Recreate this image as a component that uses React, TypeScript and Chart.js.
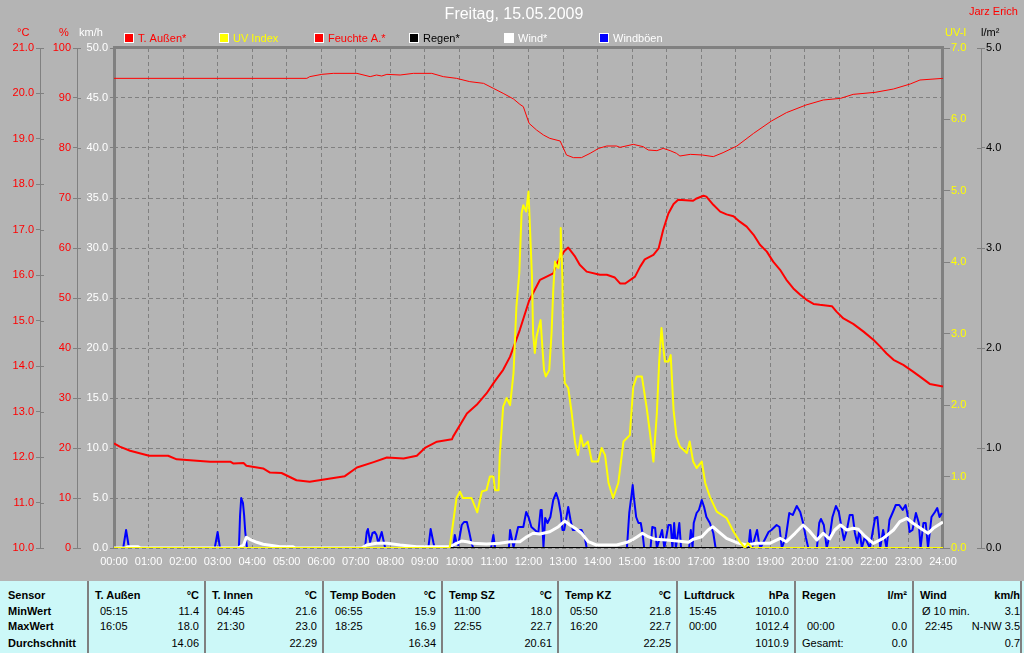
import React, { useEffect, useRef } from 'react';
import { Chart, registerables } from 'chart.js';

Chart.register(...registerables);

// ---------------- data ----------------
const TITLE = 'Freitag, 15.05.2009';
const AUTHOR = 'Jarz Erich';

// time in minutes since 00:00
const tempTimes = [0, 10, 28, 61, 94, 109, 167, 202, 207, 225, 230, 259, 271, 291, 317, 340, 362, 387, 401, 422, 451, 474, 503, 526, 541, 561, 587, 589, 613, 630, 647, 661, 676, 688, 705, 721, 740, 763, 769, 782, 789, 801, 809, 821, 844, 856, 870, 879, 888, 905, 914, 922, 937, 946, 954, 963, 972, 980, 1006, 1012, 1024, 1029, 1041, 1053, 1064, 1076, 1087, 1099, 1111, 1122, 1134, 1145, 1157, 1168, 1180, 1192, 1203, 1215, 1226, 1247, 1255, 1267, 1284, 1302, 1319, 1331, 1342, 1354, 1371, 1388, 1400, 1417, 1440];
const tempValues = [12.30, 12.23, 12.14, 12.03, 12.03, 11.95, 11.90, 11.90, 11.86, 11.87, 11.81, 11.75, 11.66, 11.65, 11.49, 11.46, 11.50, 11.55, 11.58, 11.77, 11.89, 11.99, 11.97, 12.03, 12.21, 12.34, 12.39, 12.45, 12.96, 13.15, 13.40, 13.66, 13.92, 14.21, 14.80, 15.44, 15.90, 16.04, 16.26, 16.53, 16.61, 16.41, 16.23, 16.08, 16.01, 16.01, 15.95, 15.82, 15.82, 15.97, 16.19, 16.35, 16.45, 16.59, 17.00, 17.36, 17.57, 17.66, 17.64, 17.69, 17.75, 17.73, 17.55, 17.40, 17.34, 17.30, 17.18, 17.07, 16.89, 16.67, 16.52, 16.30, 16.12, 15.90, 15.71, 15.57, 15.46, 15.37, 15.35, 15.32, 15.20, 15.05, 14.93, 14.76, 14.58, 14.43, 14.28, 14.14, 14.03, 13.88, 13.77, 13.61, 13.55];

const humTimes = [0, 335, 340, 361, 381, 422, 445, 456, 465, 474, 497, 520, 552, 572, 595, 618, 642, 659, 676, 694, 705, 711, 721, 734, 746, 757, 775, 786, 798, 812, 827, 842, 856, 873, 879, 902, 919, 928, 943, 954, 966, 977, 983, 1001, 1022, 1041, 1058, 1082, 1111, 1142, 1168, 1202, 1232, 1262, 1284, 1322, 1354, 1383, 1400, 1440];
const humValues = [93.93, 93.93, 94.27, 94.73, 94.93, 94.93, 94.27, 94.6, 94.4, 94.73, 94.6, 94.93, 94.93, 94.27, 93.93, 93.27, 92.93, 91.93, 90.93, 89.8, 88.73, 88.27, 84.93, 83.6, 82.6, 81.93, 81.4, 78.6, 78.07, 78.07, 78.93, 79.93, 80.4, 80.4, 80.13, 80.73, 80.27, 79.6, 79.47, 79.93, 79.47, 78.93, 78.4, 78.73, 78.6, 78.27, 79.07, 80.4, 82.93, 85.4, 87.07, 88.6, 89.6, 89.93, 90.73, 91.13, 91.8, 92.8, 93.6, 93.93];

const uvTimes = [0, 583, 595, 601, 606, 621, 631, 639, 647, 653, 659, 662, 668, 670, 676, 682, 688, 694, 699, 704, 708, 711, 716, 720, 726, 728, 731, 734, 741, 744, 747, 750, 756, 760, 763, 766, 769, 772, 775, 776, 779, 780, 783, 789, 795, 801, 806, 811, 815, 823, 830, 841, 847, 853, 859, 867, 876, 885, 896, 902, 908, 917, 925, 931, 937, 943, 947, 951, 954, 957, 963, 967, 972, 977, 983, 995, 1000, 1006, 1012, 1021, 1027, 1035, 1047, 1064, 1076, 1087, 1096, 1101, 1108, 1440];
const uvValues = [0, 0, 0.70, 0.79, 0.70, 0.70, 0.50, 0.79, 0.81, 1.0, 1.0, 0.81, 0.81, 1.28, 1.98, 2.10, 2.0, 2.45, 3.38, 3.85, 4.69, 4.80, 4.71, 4.99, 3.80, 3.0, 2.73, 2.96, 3.19, 2.82, 2.49, 2.40, 2.49, 3.0, 3.61, 4.01, 3.94, 3.92, 4.13, 4.48, 3.75, 2.87, 2.31, 2.24, 1.89, 1.47, 1.30, 1.58, 1.42, 1.49, 1.21, 1.21, 1.40, 1.30, 0.91, 0.70, 0.91, 1.49, 1.58, 2.26, 2.40, 2.40, 1.98, 1.61, 1.21, 1.89, 2.61, 3.08, 2.82, 2.61, 2.61, 2.70, 1.93, 1.56, 1.42, 1.33, 1.49, 1.21, 1.12, 1.21, 0.91, 0.72, 0.51, 0.42, 0.23, 0.09, 0, 0.07, 0, 0];

const gustTimes = [
  0, 16, 21, 26,
  175, 180, 184,
  217, 219, 221, 224, 226, 228, 231,
  436, 439, 441, 445, 449, 453, 456, 459, 465, 468, 471,
  546, 550, 555, 557,
  589, 592, 595, 598, 604, 608, 613, 617, 621, 624,
  655, 659, 662,
  686, 688, 694, 702, 711, 716, 720, 725, 731, 737, 741, 743, 746, 749, 753, 758, 763, 768, 772, 776, 779, 782, 786, 789, 793, 797, 812, 818, 821,
  891, 895, 899, 901, 903, 907, 911, 915, 918, 921,
  932, 935, 940, 943,
  952, 956,
  963, 967, 970,
  973, 976,
  982, 985,
  999, 1002, 1005,
  1007, 1012, 1016, 1021, 1025, 1029, 1035, 1041, 1045,
  1102, 1105, 1108,
  1117, 1120, 1123,
  1137, 1142, 1151, 1156, 1160,
  1167, 1173, 1179, 1186, 1192, 1197, 1202, 1206,
  1221, 1225, 1228, 1233, 1238,
  1244, 1248, 1254, 1259, 1263, 1268,
  1273, 1278, 1283, 1287, 1291, 1295, 1299,
  1304, 1313,
  1322, 1326, 1331, 1336, 1342,
  1347, 1353, 1358, 1364, 1370, 1375, 1378, 1382, 1387, 1393, 1398, 1401,
  1406, 1410, 1414,
  1420, 1426, 1430, 1434, 1438,
];
const gustValues = [
  0, 0, 1.8, 0,
  0, 1.6, 0,
  0, 3.3, 5.0, 4.5, 3.3, 1.6, 0,
  0, 1.6, 1.9, 0.6, 1.5, 1.6, 1.3, 0.5, 1.6, 0.8, 0,
  0, 1.9, 0.5, 0,
  0, 1.3, 0.5, 0.3, 2.3, 2.6, 2.6, 1.6, 0.5, 0,
  0, 1.3, 0,
  0, 1.8, 0.1, 2.1, 2.1, 3.6, 3.1, 2.1, 1.8, 1.5, 3.8, 3.8, 0.1, 3.0, 2.5, 3.1, 4.8, 5.5, 4.8, 3.5, 1.8, 1.8, 3.1, 4.1, 2.8, 1.8, 1.8, 1.0, 0,
  0, 3.5, 5.3, 6.3, 5.1, 3.1, 2.5, 2.5, 1.5, 0,
  0, 2.1, 2.0, 0,
  1.8, 0,
  2.3, 2.3, 0,
  2.5, 0,
  2.5, 0,
  0, 1.8, 0,
  2.5, 3.5, 3.8, 4.8, 4.1, 3.1, 2.5, 1.5, 0,
  0, 1.8, 0,
  1.8, 0.7, 0,
  1.6, 1.8, 2.3, 2.1, 0,
  1.1, 3.5, 3.3, 4.2, 3.6, 2.5, 1.0, 0,
  0, 2.5, 2.9, 2.3, 0,
  1.5, 3.1, 4.2, 3.6, 2.3, 0.8,
  1.8, 3.3, 3.3, 1.5, 0.5, 1.8, 0,
  1.1, 0,
  3.0, 3.1, 0, 1.8, 0,
  2.8, 3.6, 4.3, 4.3, 3.8, 4.3, 3.5, 1.6, 1.8, 3.5, 2.5, 0,
  2.5, 2.5, 0,
  3.1, 3.6, 4.0, 3.1, 3.5,
];

const windTimes = [0, 20, 24, 42, 46, 215, 225, 230, 236, 248, 259, 277, 288, 311, 315, 430, 439, 456, 474, 497, 526, 549, 584, 595, 604, 613, 624, 647, 670, 688, 705, 717, 728, 740, 757, 772, 783, 792, 801, 812, 824, 838, 873, 891, 902, 909, 918, 928, 940, 960, 983, 998, 1006, 1021, 1032, 1040, 1050, 1064, 1082, 1099, 1116, 1139, 1157, 1168, 1183, 1197, 1209, 1221, 1232, 1243, 1252, 1262, 1273, 1284, 1293, 1304, 1319, 1336, 1354, 1365, 1377, 1388, 1401, 1414, 1423, 1440];
const windValues = [0, 0, 0.13, 0.13, 0, 0, 0.3, 1.07, 0.87, 0.57, 0.37, 0.23, 0.13, 0.13, 0, 0, 0.3, 0.47, 0.47, 0.3, 0.13, 0.13, 0.13, 0.47, 0.7, 0.63, 0.47, 0.4, 0.47, 0.63, 0.63, 1.13, 1.47, 1.4, 1.63, 2.13, 2.7, 2.3, 1.97, 1.47, 0.63, 0.3, 0.3, 0.57, 0.87, 1.13, 1.47, 1.13, 0.87, 0.8, 0.67, 0.57, 0.87, 1.13, 1.8, 2.13, 1.63, 0.97, 0.53, 0.3, 0.47, 0.47, 0.97, 0.63, 1.47, 2.3, 1.63, 0.8, 1.47, 0.9, 1.8, 2.3, 1.8, 1.97, 1.87, 1.2, 0.47, 0.97, 1.8, 2.63, 2.97, 2.47, 1.97, 1.47, 1.97, 2.6];

const rainTimes = [0, 1440];
const rainValues = [0, 0];

const legendLabels = ['T. Außen*', 'UV Index', 'Feuchte A.*', 'Regen*', 'Wind*', 'Windböen'];
const axisUnits = ['°C', '%', 'km/h', 'UV-I', 'l/m²'];

// statistics table
const tableRowLabels = ['Sensor', 'MinWert', 'MaxWert', 'Durchschnitt'];
const tableSensors = ['T. Außen', 'T. Innen', 'Temp Boden', 'Temp SZ', 'Temp KZ', 'Luftdruck', 'Regen', 'Wind'];
const tableUnits = ['°C', '°C', '°C', '°C', '°C', 'hPa', 'l/m²', 'km/h'];
const tableMinTime = ['05:15', '04:45', '06:55', '11:00', '05:50', '15:45', '', 'Ø 10 min.'];
const tableMinValue = ['11.4', '21.6', '15.9', '18.0', '21.8', '1010.0', '', '3.1'];
const tableMaxTime = ['16:05', '21:30', '18:25', '22:55', '16:20', '00:00', '00:00', '22:45'];
const tableMaxValue = ['18.0', '23.0', '16.9', '22.7', '22.7', '1012.4', '0.0', 'N-NW 3.5'];
const tableAvgLabel = ['', '', '', '', '', '', 'Gesamt:', ''];
const tableAvgValue = ['14.06', '22.29', '16.34', '20.61', '22.25', '1010.9', '0.0', '0.7'];

// ---------------- styles ----------------
const FONT = '"Liberation Sans", Arial, sans-serif';
const BG = '#b4b4b4';
const GRID = '#808080';
const RED = '#ff0000';
const YELLOW = '#ffff00';
const BLUE = '#0000ff';
const WHITE = '#ffffff';
const BLACK = '#000000';
const TABLE_BG = '#ccf8f8';
const legendColors = [RED, YELLOW, RED, BLACK, WHITE, BLUE];
const legendTextColors = [RED, YELLOW, RED, BLACK, WHITE, WHITE];
const unitColors = [RED, RED, WHITE, YELLOW, BLACK];
const unitX = [17, 59, 79, 945, 981];
const COL_EDGES = [88, 205, 323, 442, 558, 677, 795, 913, 1026];

const pts = (t: number[], v: number[]) => t.map((x, i) => ({ x, y: v[i] }));
const hhmm = (m: number) => `${String(Math.round(m / 60)).padStart(2, '0')}:00`;

function StatsTable() {
  const rowTops = [7, 23, 38, 55];
  const base: React.CSSProperties = {
    position: 'absolute',
    font: `11px ${FONT}`,
    lineHeight: '14px',
    color: '#000',
    whiteSpace: 'nowrap',
  };
  const bold: React.CSSProperties = { ...base, fontWeight: 'bold' };
  const cells: React.ReactNode[] = [];
  tableRowLabels.forEach((l, r) => {
    cells.push(<div key={'rl' + r} style={{ ...bold, left: 8, top: rowTops[r] }}>{l}</div>);
  });
  tableSensors.forEach((s, i) => {
    const left = COL_EDGES[i];
    const right = COL_EDGES[i + 1];
    const rr = 1024 - (right - 6);
    cells.push(<div key={'sep' + i} style={{ position: 'absolute', left: left - 1, top: 0, width: 2, height: 72, background: GRID }} />);
    cells.push(<div key={'h' + i} style={{ ...bold, left: left + 7, top: rowTops[0] }}>{s}</div>);
    cells.push(<div key={'u' + i} style={{ ...bold, right: rr, top: rowTops[0] }}>{tableUnits[i]}</div>);
    cells.push(<div key={'mt' + i} style={{ ...base, left: left + (i === 7 ? 9 : 12), top: rowTops[1] }}>{tableMinTime[i]}</div>);
    cells.push(<div key={'mv' + i} style={{ ...base, right: rr, top: rowTops[1] }}>{tableMinValue[i]}</div>);
    cells.push(<div key={'xt' + i} style={{ ...base, left: left + 12, top: rowTops[2] }}>{tableMaxTime[i]}</div>);
    cells.push(<div key={'xv' + i} style={{ ...base, right: rr, top: rowTops[2] }}>{tableMaxValue[i]}</div>);
    cells.push(<div key={'al' + i} style={{ ...base, left: left + 7, top: rowTops[3] }}>{tableAvgLabel[i]}</div>);
    cells.push(<div key={'av' + i} style={{ ...base, right: rr, top: rowTops[3] }}>{tableAvgValue[i]}</div>);
  });
  cells.push(<div key="rb" style={{ position: 'absolute', left: 1020, top: 0, width: 2, height: 72, background: GRID }} />);
  return (
    <div style={{ position: 'absolute', left: 0, top: 581, width: 1024, height: 72, background: TABLE_BG, overflow: 'hidden' }}>
      {cells}
    </div>
  );
}

export default function App() {
  const ref = useRef<HTMLCanvasElement>(null);

  useEffect(() => {
    const canvas = ref.current;
    if (!canvas) return;

    const decor = {
      id: 'decor',
      beforeDatasetsDraw(chart: any) {
        const { ctx, chartArea } = chart;
        const { left, right, top, bottom } = chartArea;
        ctx.save();
        ctx.strokeStyle = GRID;
        ctx.lineWidth = 3;
        ctx.setLineDash([]);
        ctx.beginPath();
        ctx.moveTo(left + 0.5, bottom);
        ctx.lineTo(left + 0.5, top - 0.5);
        ctx.lineTo(right - 0.5, top - 0.5);
        ctx.lineTo(right - 0.5, bottom);
        ctx.stroke();
        // tick marks crossing the thin axis lines
        ctx.lineWidth = 1;
        ['temp', 'hum', 'rain'].forEach((id) => {
          const s = chart.scales[id];
          const bx = s.position === 'left' ? s.right : s.left;
          const dir = s.position === 'left' ? 1 : -1;
          s.ticks.forEach((t: any) => {
            const y = Math.round(s.getPixelForValue(t.value)) + 0.5;
            ctx.beginPath();
            ctx.moveTo(bx, y);
            ctx.lineTo(bx + dir * 4, y);
            ctx.stroke();
          });
        });
        ctx.restore();
      },
      afterDraw(chart: any) {
        const ctx = chart.ctx as CanvasRenderingContext2D;
        ctx.save();
        ctx.textBaseline = 'middle';
        // title
        ctx.font = `16px ${FONT}`;
        ctx.fillStyle = WHITE;
        ctx.textAlign = 'center';
        ctx.fillText(TITLE, 514, 15);
        // author
        ctx.font = `11px ${FONT}`;
        ctx.textAlign = 'left';
        ctx.fillStyle = RED;
        ctx.fillText(AUTHOR, 969, 12);
        // axis units
        axisUnits.forEach((u, i) => {
          ctx.fillStyle = unitColors[i];
          ctx.fillText(u, unitX[i], 33);
        });
        // legend
        legendLabels.forEach((l, i) => {
          const x = 124 + i * 95;
          const y = 33;
          ctx.fillStyle = legendColors[i];
          ctx.fillRect(x, y, 10, 10);
          ctx.strokeStyle = WHITE;
          ctx.lineWidth = 1;
          ctx.strokeRect(x + 0.5, y + 0.5, 9, 9);
          ctx.fillStyle = legendTextColors[i];
          ctx.fillText(l, x + 14, 38.5);
        });
        ctx.restore();
      },
    };

    const tickFont = { family: FONT, size: 11 };
    const lineBase = { pointRadius: 0, tension: 0, borderJoinStyle: 'round' as const, fill: false };

    const chart = new Chart(canvas, {
      type: 'line',
      data: {
        datasets: [
          { ...lineBase, label: legendLabels[1], data: pts(uvTimes, uvValues), yAxisID: 'uv', borderColor: YELLOW, borderWidth: 2, order: 0 },
          { ...lineBase, label: legendLabels[3], data: pts(rainTimes, rainValues), yAxisID: 'rain', borderColor: BLACK, borderWidth: 2, order: 1 },
          { ...lineBase, label: legendLabels[4], data: pts(windTimes, windValues), yAxisID: 'kmh', borderColor: WHITE, borderWidth: 3, order: 2 },
          { ...lineBase, label: legendLabels[5], data: pts(gustTimes, gustValues), yAxisID: 'kmh', borderColor: BLUE, borderWidth: 2, order: 3 },
          { ...lineBase, label: legendLabels[0], data: pts(tempTimes, tempValues), yAxisID: 'temp', borderColor: RED, borderWidth: 2, order: 4 },
          { ...lineBase, label: legendLabels[2], data: pts(humTimes, humValues), yAxisID: 'hum', borderColor: RED, borderWidth: 1, order: 5 },
        ],
      },
      options: {
        responsive: false,
        animation: false,
        events: [],
        layout: { padding: { top: 48, left: 0, right: 0, bottom: 0 } },
        plugins: { legend: { display: false }, title: { display: false }, tooltip: { enabled: false } },
        scales: {
          x: {
            type: 'linear',
            position: 'bottom',
            min: 0,
            max: 1440,
            ticks: { stepSize: 60, autoSkip: false, maxRotation: 0, color: WHITE, font: tickFont, padding: 7, callback: (v: any) => hhmm(Number(v)) },
            grid: { color: GRID, lineWidth: 1, drawTicks: false },
            border: { display: false, dash: [4, 3] },
            afterFit: (s: any) => { s.height = 32; },
          },
          kmh: {
            type: 'linear',
            position: 'left',
            weight: 0,
            min: 0,
            max: 50,
            ticks: { stepSize: 5, autoSkip: false, color: WHITE, font: tickFont, padding: 2, callback: (v: any) => Number(v).toFixed(1) },
            grid: { color: GRID, lineWidth: 1, tickLength: 4, tickColor: GRID, drawOnChartArea: true },
            border: { display: false, dash: [4, 3] },
            afterFit: (s: any) => { s.width = 37; },
          },
          hum: {
            type: 'linear',
            position: 'left',
            weight: 1,
            min: 0,
            max: 100,
            ticks: { stepSize: 10, autoSkip: false, color: RED, font: tickFont, padding: 2, callback: (v: any) => String(v) },
            grid: { color: GRID, tickLength: 4, drawOnChartArea: false },
            border: { display: true, color: GRID, width: 1 },
            afterFit: (s: any) => { s.width = 37; },
          },
          temp: {
            type: 'linear',
            position: 'left',
            weight: 2,
            min: 10,
            max: 21,
            ticks: { stepSize: 1, autoSkip: false, color: RED, font: tickFont, padding: 2, callback: (v: any) => Number(v).toFixed(1) },
            grid: { color: GRID, tickLength: 4, drawOnChartArea: false },
            border: { display: true, color: GRID, width: 1 },
            afterFit: (s: any) => { s.width = 40; },
          },
          uv: {
            type: 'linear',
            position: 'right',
            weight: 0,
            min: 0,
            max: 7,
            ticks: { stepSize: 1, autoSkip: false, color: YELLOW, font: tickFont, padding: 1, callback: (v: any) => Number(v).toFixed(1) },
            grid: { color: GRID, tickLength: 7, drawOnChartArea: false },
            border: { display: false },
            afterFit: (s: any) => { s.width = 38; },
          },
          rain: {
            type: 'linear',
            position: 'right',
            weight: 1,
            min: 0,
            max: 5,
            ticks: { stepSize: 1, autoSkip: false, color: BLACK, font: tickFont, padding: 1, callback: (v: any) => Number(v).toFixed(1) },
            grid: { color: GRID, tickLength: 4, drawOnChartArea: false },
            border: { display: true, color: GRID, width: 1 },
            afterFit: (s: any) => { s.width = 43; },
          },
        },
      } as any,
      plugins: [decor],
    });

    return () => chart.destroy();
  }, []);

  return (
    <div style={{ position: 'fixed', left: 0, top: 0, width: 1024, height: 653, background: BG, overflow: 'hidden' }}>
      <canvas ref={ref} width={1024} height={580} style={{ position: 'absolute', left: 0, top: 0, width: 1024, height: 580 }} />
      <StatsTable />
    </div>
  );
}
